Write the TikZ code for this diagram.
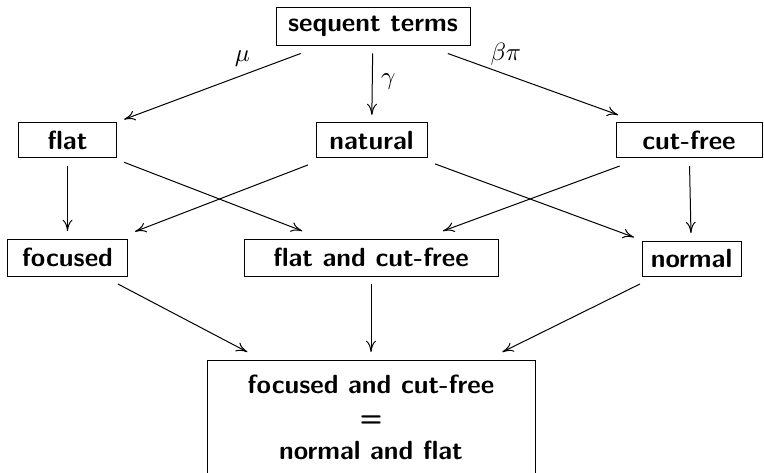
\documentclass[tikz,border=0pt]{standalone}
\usetikzlibrary{arrows.meta}

\begin{document}
\begin{tikzpicture}[x=0.4pt, y=-0.4pt, >={To[length=4.5pt,width=4pt]},
  main/.style = {draw, rectangle, inner xsep=2pt, inner ysep=1pt, outer sep=3.2pt,
    minimum height=14pt, font=\fontsize{10.5}{12.6}\selectfont\sffamily\bfseries}]
\useasboundingbox (0,0) rectangle (764,472);
\node[main, minimum width=77.6pt, minimum height=15.2pt] (seq) at (373,26.5) {sequent terms};
\node[main, minimum width=38.8pt] (flat) at (67.5,140.5) {flat};
\node[main, minimum width=44.4pt] (nat) at (371.5,140.5) {natural};
\node[main, minimum width=58.4pt] (cf) at (689,140.5) {cut-free};
\node[main, minimum width=47.6pt, minimum height=14.8pt] (foc) at (67.5,257.5) {focused};
\node[main, minimum width=101.6pt, minimum height=14.8pt] (flatcf) at (371,257.5) {flat and cut-free};
\node[main, minimum width=39.6pt] (norm) at (691.5,258.5) {normal};
\node[main, minimum width=131.2pt, minimum height=45.6pt, align=center] (res) at (371,417)
  {focused and cut-free\\[0.6pt] =\\[0.6pt] normal and flat};
\draw[->] (seq) -- node[pos=0.33, above] {$\mu$} (flat);
\draw[->] (seq) -- node[pos=0.45, right] {$\gamma$} (nat);
\draw[->] (seq) -- node[pos=0.34, above] {$\beta\pi$} (cf);
\draw[->] (flat) -- (foc);
\draw[->] (flat) -- (flatcf);
\draw[->] (nat) -- (foc);
\draw[->] (nat) -- (norm);
\draw[->] (cf) -- (flatcf);
\draw[->] (cf) -- (norm);
\draw[->] (foc) -- (res);
\draw[->] (flatcf) -- (res);
\draw[->] (norm) -- (res);
\end{tikzpicture}
\end{document}
